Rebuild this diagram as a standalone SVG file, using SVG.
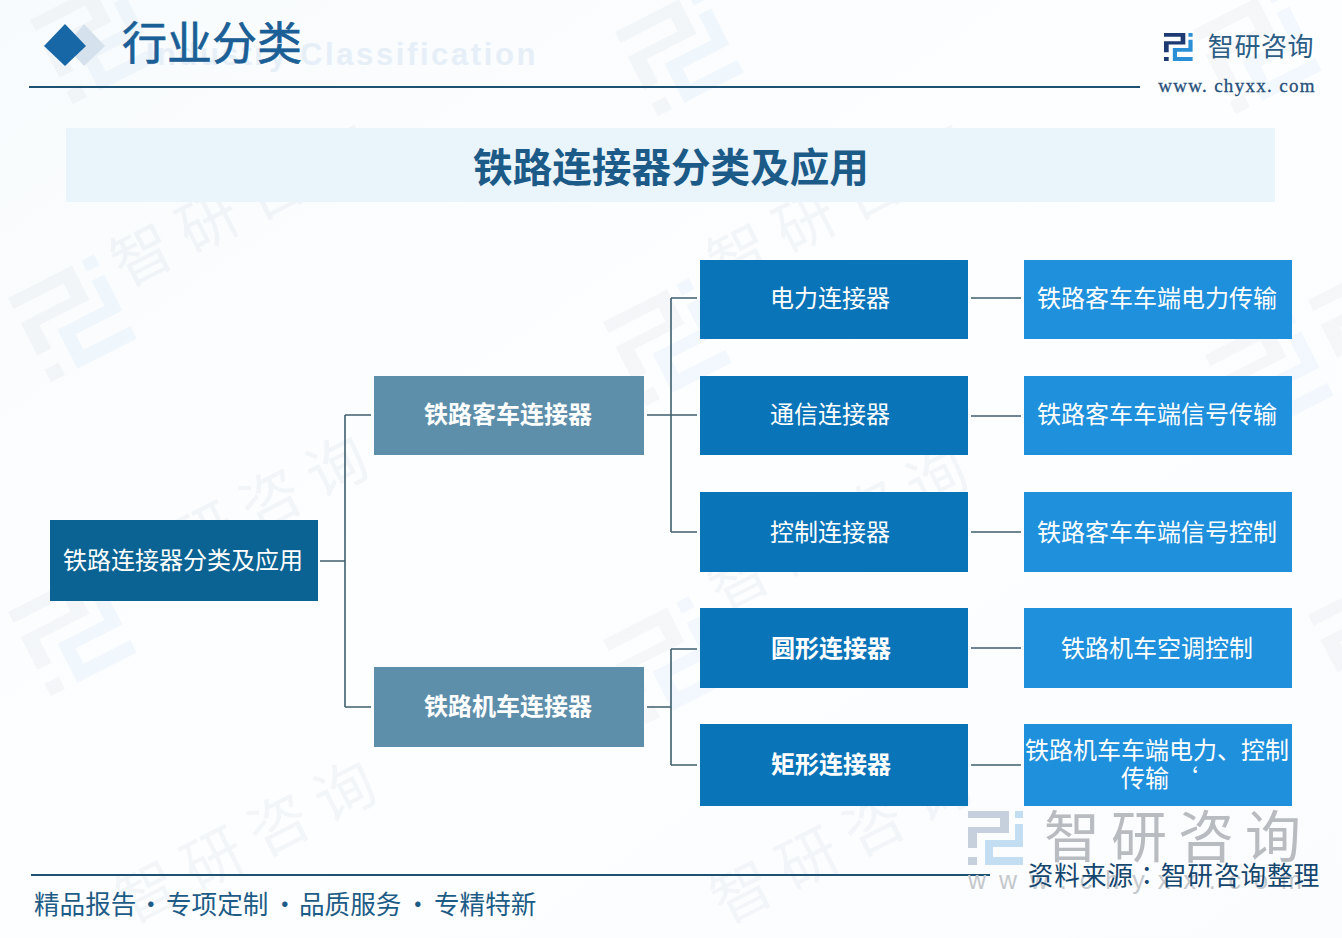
<svg xmlns="http://www.w3.org/2000/svg" width="1342" height="938" viewBox="0 0 1342 938">
<style>
text{font-family:"Noto Sans CJK SC","Noto Sans",sans-serif;text-anchor:middle}
.n{fill:#fff;font-size:24px}
.b{fill:#fff;font-size:24px;font-weight:700}
.c{fill:none;stroke:#3f5f6f;stroke-width:1.6}
.wm{fill:#5f7f9f;opacity:.06;font-size:60px;letter-spacing:14px;text-anchor:start}
.wg{fill:#6f8299;opacity:.055}
.wb{fill:#5ba4dc;opacity:.065}
.rule{stroke:#1d5272;stroke-width:2}
.tc{font-family:"Noto Sans CJK TC",sans-serif}
</style>
<defs>
<linearGradient id="bg" x1="0" y1="0" x2="1" y2="1"><stop offset="0" stop-color="#f8fbfd"/><stop offset=".5" stop-color="#fdfeff"/><stop offset="1" stop-color="#fbfcfe"/></linearGradient>
<path id="lg1" d="M0 0H41V22H9V37H0V16H32V7H0ZM0 46H9V54H0Z"/>
<path id="lg2" d="M47 0H55V7H47ZM47 13H55V36H25V46H55V54H17V29H47Z"/>
<g id="wlogo" transform="scale(1.75)"><use href="#lg1" class="wg"/><use href="#lg2" class="wb"/></g>
</defs>
<rect width="1342" height="938" fill="url(#bg)"/>
<g id="watermarks">
<use href="#wlogo" transform="translate(8 298) rotate(-27)"/>
<use href="#wlogo" transform="translate(8 612) rotate(-27)"/>
<use href="#wlogo" transform="translate(603 322) rotate(-27)"/>
<use href="#wlogo" transform="translate(603 640) rotate(-27)"/>
<use href="#wlogo" transform="translate(615 32) rotate(-27)"/>
<use href="#wlogo" transform="translate(1193 30) rotate(-27)"/>
<use href="#wlogo" transform="translate(1205 355) rotate(-27)"/>
<use href="#wlogo" transform="translate(1308 300) rotate(-27)"/>
<use href="#wlogo" transform="translate(1308 615) rotate(-27)"/>
<use href="#wlogo" transform="translate(30 20) rotate(-27)"/>
<text class="wm" transform="translate(125 288) rotate(-27)">智研咨询</text>
<text class="wm" transform="translate(722 288) rotate(-27)">智研咨询</text>
<text class="wm" transform="translate(122 600) rotate(-27)">智研咨询</text>
<text class="wm" transform="translate(722 612) rotate(-27)">智研咨询</text>
<text class="wm" transform="translate(130 925) rotate(-27)">智研咨询</text>
<text class="wm" transform="translate(725 925) rotate(-27)">智研咨询</text>
</g>
<g id="header">
<path d="M84 24 105 46 84 66 66 46Z" fill="#d5e1ec"/>
<path d="M65 24 86 46 65 66 44 46Z" fill="#1766a6"/>
<text x="538" y="65" style="font-family:'Liberation Sans',sans-serif;font-size:31px;font-weight:700;letter-spacing:2.6px;text-anchor:end" fill="#e6eff7">Industry Classification</text>
<text x="212" y="60" style="font-size:45px;stroke:#1b5f96;stroke-width:.7" fill="#1b5f96">行业分类</text>
<line class="rule" x1="29" y1="87" x2="1140" y2="87"/>
</g>
<g id="logo">
<g transform="translate(1164 33) scale(.52)"><use href="#lg1" fill="#1d3a72"/><use href="#lg2" fill="#2a8fd6"/></g>
<text x="1261" y="56" style="font-size:26px;letter-spacing:.6px" fill="#2c5d85">智研咨询</text>
<text x="1237" y="92" style="font-family:'Liberation Serif',serif;font-size:19px;letter-spacing:1.3px;stroke:#27507a;stroke-width:.3" fill="#27507a">www. chyxx. com</text>
</g>
<g id="title">
<rect x="66" y="128" width="1209" height="74" fill="#e9f4fb"/>
<text x="671" y="182" style="font-size:39.6px;font-weight:700" fill="#1c5a88">铁路连接器分类及应用</text>
</g>
<g id="connectors">
<path class="c" d="M320 561H345M345 415V707M345 415H371M345 707H371"/>
<path class="c" d="M647 415H697M671 298V532M671 298H697M671 532H697"/>
<path class="c" d="M647 707H671M671 649V765M671 649H697M671 765H697"/>
<path class="c" d="M971 298H1021M971 416H1021M971 532H1021M971 648H1021M971 765H1021"/>
</g>
<g id="root"><rect x="50" y="520" width="268" height="81" fill="#0a6392"/><text class="n" x="183" y="569">铁路连接器分类及应用</text></g>
<g id="passenger"><rect x="374" y="376" width="270" height="79" fill="#5d8eaa"/><text class="b" x="508" y="423">铁路客车连接器</text></g>
<g id="loco"><rect x="374" y="667" width="270" height="80" fill="#5d8eaa"/><text class="b" x="508" y="715">铁路机车连接器</text></g>
<g id="t1"><rect x="700" y="260" width="268" height="79" fill="#0a74b8"/><text class="n" x="830" y="307">电力连接器</text></g>
<g id="t2"><rect x="700" y="376" width="268" height="79" fill="#0a74b8"/><text class="n" x="830" y="423">通信连接器</text></g>
<g id="t3"><rect x="700" y="492" width="268" height="80" fill="#0a74b8"/><text class="n" x="830" y="541">控制连接器</text></g>
<g id="t4"><rect x="700" y="608" width="268" height="80" fill="#0a74b8"/><text class="b" x="831" y="657">圆形连接器</text></g>
<g id="t5"><rect x="700" y="724" width="268" height="82" fill="#0a74b8"/><text class="b" x="831" y="773">矩形连接器</text></g>
<g id="a1"><rect x="1024" y="260" width="268" height="79" fill="#1e90dc"/><text class="n" x="1157" y="307">铁路客车车端电力传输</text></g>
<g id="a2"><rect x="1024" y="376" width="268" height="79" fill="#1e90dc"/><text class="n" x="1157" y="423">铁路客车车端信号传输</text></g>
<g id="a3"><rect x="1024" y="492" width="268" height="80" fill="#1e90dc"/><text class="n" x="1157" y="541">铁路客车车端信号控制</text></g>
<g id="a4"><rect x="1024" y="608" width="268" height="80" fill="#1e90dc"/><text class="n" x="1157" y="657">铁路机车空调控制</text></g>
<g id="a5"><rect x="1024" y="724" width="268" height="82" fill="#1e90dc"/><text class="n" x="1157" y="759">铁路机车车端电力、控制</text><text class="n" y="787"><tspan x="1145">传输</tspan><tspan x="1186">‘</tspan></text></g>
<g id="footer">
<line class="rule" x1="31" y1="875" x2="990" y2="875"/>
<text y="914" style="font-size:25.6px;text-anchor:start" fill="#1d5c86"><tspan x="34">精品报告</tspan><tspan x="138">·</tspan><tspan x="166">专项定制</tspan><tspan x="272">·</tspan><tspan x="299">品质服务</tspan><tspan x="405">·</tspan><tspan x="434">专精特新</tspan></text>
<g transform="translate(968 811)"><use href="#lg1" fill="#c6cfdc"/><use href="#lg2" fill="#c3def3"/></g>
<text x="1178" y="857" style="font-size:56px;letter-spacing:11px" fill="#b8bcc0">智研咨询</text>
<text x="968" y="889" style="font-family:'Liberation Sans',sans-serif;font-size:25px;letter-spacing:13px;text-anchor:start" fill="#c4c8cc">www.chyxx.com</text>
<text x="1174" y="885" style="font-size:25.6px;letter-spacing:1px" fill="#14466e">资料来源<tspan class="tc">：</tspan>智研咨询整理</text>
</g>
</svg>
